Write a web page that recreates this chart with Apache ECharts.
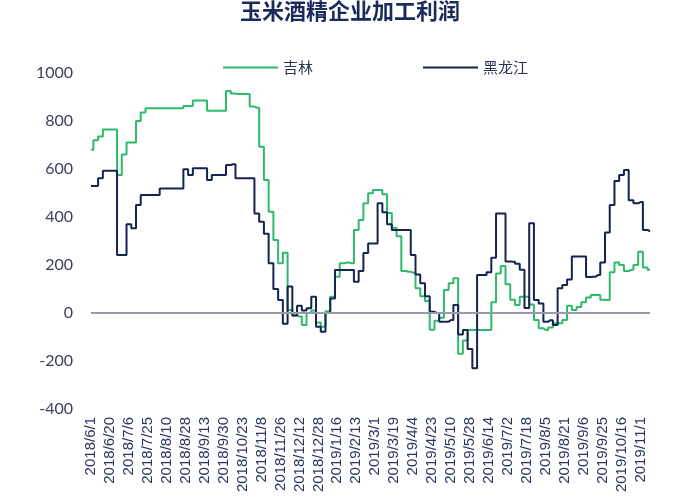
<!DOCTYPE html>
<html>
<head>
<meta charset="utf-8">
<script src="https://cdn.jsdelivr.net/npm/echarts@6/dist/echarts.min.js"></script>
<style>
  html, body { margin: 0; padding: 0; background: #fff; }
  #main { width: 700px; height: 500px; }
</style>
</head>
<body>
<div id="main"></div>
<script>
// 横轴刻度（每个刻度之间约12个交易日，这里每段取4个点）
var tickLabels = ['2018/6/1', '2018/6/20', '2018/7/6', '2018/7/25', '2018/8/10', '2018/8/28',
    '2018/9/13', '2018/9/30', '2018/10/23', '2018/11/8', '2018/11/26', '2018/12/12',
    '2018/12/28', '2019/1/16', '2019/2/13', '2019/3/1', '2019/3/19', '2019/4/4',
    '2019/4/23', '2019/5/10', '2019/5/28', '2019/6/14', '2019/7/2', '2019/7/18',
    '2019/8/5', '2019/8/21', '2019/9/6', '2019/9/25', '2019/10/16', '2019/11/1'];
var pointsPerTick = 4;
var pointsAfterLast = 2;

// 吉林
var jilin = [680, 720, 735, 765, 765, 765, 575, 660, 710, 710,
    800, 835, 853, 853, 853, 853, 853, 853, 853, 853,
    862, 862, 885, 885, 885, 843, 843, 843, 843, 925,
    915, 912, 912, 912, 860, 855, 693, 554, 422, 304,
    207, 251, 12, -10, -15, -50, 0, 10, -40, -57,
    7, 68, 151, 207, 210, 207, 346, 387, 457, 499,
    512, 512, 495, 417, 355, 320, 175, 172, 168, 103,
    70, 50, -70, -32, -20, 96, 124, 145, -170, -115,
    -71, -71, -71, -71, -71, 45, 165, 196, 120, 55,
    33, 68, 68, 35, -29, -64, -71, -60, -43, -43,
    -29, 30, 12, 25, 45, 65, 75, 75, 55, 54,
    170, 210, 200, 175, 180, 200, 255, 190, 180];

// 黑龙江
var heilongjiang = [529, 529, 561, 593, 593, 593, 242, 242, 370, 353,
    450, 492, 492, 492, 492, 519, 519, 519, 519, 519,
    599, 575, 603, 603, 603, 554, 575, 575, 575, 617,
    620, 561, 561, 561, 561, 415, 380, 330, 207, 100,
    54, -45, 110, -10, 30, 10, 20, 68, -57, -78,
    0, 60, 179, 179, 179, 179, 130, 175, 250, 290,
    290, 457, 420, 370, 346, 346, 346, 346, 242, 160,
    124, 70, 5, 0, -36, -36, -29, 33, -90, -71,
    -150, -230, 158, 158, 170, 230, 415, 415, 215, 214,
    205, 180, 21, 374, 54, 40, -36, -30, -50, 103,
    117, 140, 235, 235, 235, 150, 151, 158, 210, 335,
    450, 550, 575, 596, 470, 457, 462, 346, 340];

var categories = [];
tickLabels.forEach(function (label, i) {
    categories.push(label);
    var fill = i < tickLabels.length - 1 ? pointsPerTick - 1 : pointsAfterLast;
    for (var j = 0; j < fill; j++) categories.push('');
});

var chart = echarts.init(document.getElementById('main'));

var option = {
    animation: false,
    backgroundColor: '#fff',
    title: {
        text: '玉米酒精企业加工利润',
        left: 'center',
        top: -5,
        textStyle: {
            fontFamily: 'Noto Sans CJK SC',
            fontSize: 22,
            fontWeight: 'bold',
            color: '#1b2a5c'
        }
    },
    legend: {
        top: 55,
        left: 218,
        icon: 'rect',
        itemWidth: 55,
        itemHeight: 2,
        itemGap: 110,
        textStyle: {
            fontFamily: 'Noto Sans CJK SC',
            fontSize: 15,
            color: '#2b3350'
        },
        data: ['吉林', '黑龙江']
    },
    grid: {
        left: 91,
        right: 50,
        top: 73,
        bottom: 91,
        containLabel: false
    },
    xAxis: {
        type: 'category',
        boundaryGap: false,
        data: categories,
        axisLine: { show: false },
        axisTick: { show: false },
        splitLine: { show: false },
        axisLabel: {
            interval: pointsPerTick - 1,
            rotate: 90,
            margin: 8,
            fontFamily: 'Liberation Sans',
            fontSize: 15,
            color: '#2a3560'
        }
    },
    yAxis: {
        type: 'value',
        min: -400,
        max: 1000,
        interval: 200,
        axisLine: { show: false },
        axisTick: { show: false },
        splitLine: { show: false },
        axisLabel: {
            margin: 18,
            fontFamily: 'Lato',
            fontSize: 16,
            color: '#3a4060',
            formatter: function (v) { return String(v); }
        }
    },
    series: [
        {
            name: '吉林',
            type: 'line',
            step: 'middle',
            data: jilin,
            showSymbol: false,
            lineStyle: { width: 2, color: '#2dba6a' },
            itemStyle: { color: '#2dba6a' },
            markLine: {
                silent: true,
                symbol: ['none', 'none'],
                label: { show: false },
                lineStyle: { color: '#9a9aa6', width: 2, type: 'solid' },
                data: [{ yAxis: 0 }]
            },
            z: 2
        },
        {
            name: '黑龙江',
            type: 'line',
            step: 'middle',
            data: heilongjiang,
            showSymbol: false,
            lineStyle: { width: 2, color: '#14234f' },
            itemStyle: { color: '#14234f' },
            z: 3
        }
    ]
};
chart.setOption(option);
</script>
</body>
</html>
